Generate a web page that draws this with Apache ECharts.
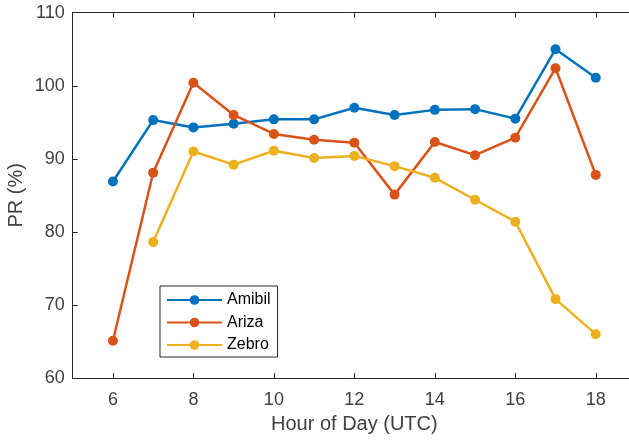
<!DOCTYPE html>
<html>
<head>
<meta charset="utf-8">
<script src="https://cdn.jsdelivr.net/npm/echarts@6/dist/echarts.min.js"></script>
<style>
  html, body { margin: 0; padding: 0; background: #fff; }
  #chart { width: 629px; height: 441px; }
</style>
</head>
<body>
<div id="chart"></div>
<script>
// hours of day (UTC)
var hours = [6, 7, 8, 9, 10, 11, 12, 13, 14, 15, 16, 17, 18]
var xTicks = [6, 8, 10, 12, 14, 16, 18]

var amibil = [86.9, 95.3, 94.3, 94.8, 95.4, 95.4, 97.0, 96.0, 96.7, 96.8, 95.5, 105.0, 101.1]
var ariza  = [65.1, 88.1, 100.4, 96.0, 93.4, 92.6, 92.2, 85.1, 92.3, 90.5, 92.9, 102.4, 87.8]
var zebro  = [null, 78.6, 91.0, 89.2, 91.1, 90.1, 90.4, 89.0, 87.4, 84.4, 81.4, 70.8, 66.0]

var colors = ["#0072BD", "#D95319", "#EDB120"]
var axisColor = "#262626"
var textColor = "#404040"

function pairs(vals){
  var out = []
  for (var i = 0; i < hours.length; i++) {
    if (vals[i] != null) out.push([hours[i], vals[i]])
  }
  return out
}

function makeSeries(name, vals){
  return {
    name: name,
    type: "line",
    data: pairs(vals),
    symbol: "circle",
    symbolSize: 10,
    lineStyle: { width: 2.5 },
    emphasis: { disabled: true },
    animation: false
  }
}

var chart = echarts.init(document.getElementById("chart"))
chart.setOption({
  color: colors,
  textStyle: { fontFamily: "Liberation Sans, Arial, sans-serif" },
  grid: { left: 72.7, top: 12.7, width: 563.3, bottom: 63, outerBoundsMode: "none" },
  legend: {
    orient: "vertical",
    left: 160,
    top: 286,
    itemWidth: 55,
    itemHeight: 12,
    itemGap: 6.5,
    padding: [6, 7, 4, 6],
    borderColor: axisColor,
    borderWidth: 1,
    backgroundColor: "#fff",
    textStyle: { color: "#000", fontSize: 16 },
    data: ["Amibil", "Ariza", "Zebro"]
  },
  xAxis: [
    {
      type: "value",
      min: 5,
      max: 19,
      name: "Hour of Day (UTC)",
      nameLocation: "middle",
      nameGap: 36,
      nameMoveOverlap: false,
      nameTextStyle: { color: textColor, fontSize: 20 },
      splitLine: { show: false },
      axisLine: { lineStyle: { color: axisColor, width: 1 } },
      axisTick: { inside: true, length: 5, customValues: xTicks, lineStyle: { color: axisColor } },
      axisLabel: { customValues: xTicks, color: textColor, fontSize: 18, margin: 13 }
    },
    {
      type: "value",
      position: "top",
      min: 5,
      max: 19,
      splitLine: { show: false },
      axisLine: { lineStyle: { color: axisColor, width: 1 } },
      axisTick: { inside: true, length: 5, customValues: xTicks, lineStyle: { color: axisColor } },
      axisLabel: { show: false }
    }
  ],
  yAxis: {
    type: "value",
    min: 60,
    max: 110,
    interval: 10,
    name: "PR (%)",
    nameLocation: "middle",
    nameGap: 46,
    nameMoveOverlap: false,
    nameTextStyle: { color: textColor, fontSize: 20 },
    splitLine: { show: false },
    axisLine: { show: true, lineStyle: { color: axisColor, width: 1 } },
    axisTick: { show: true, inside: true, length: 5, lineStyle: { color: axisColor } },
    axisLabel: { color: textColor, fontSize: 18, margin: 8 }
  },
  series: [
    makeSeries("Amibil", amibil),
    makeSeries("Ariza", ariza),
    makeSeries("Zebro", zebro)
  ]
})
</script>
</body>
</html>
